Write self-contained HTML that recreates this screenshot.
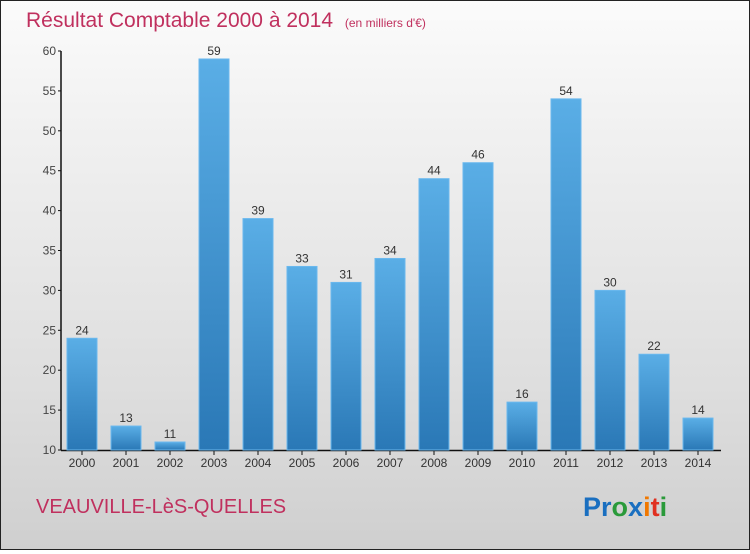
<!DOCTYPE html>
<html><head><meta charset="utf-8"><style>
body{margin:0;width:750px;height:550px;overflow:hidden}
#wrap{position:relative;width:748px;height:548px;border:1px solid #222;background:linear-gradient(#fbfbfb,#f2f2f2 20%,#dedede 70%,#cfcfcf);font-family:"Liberation Sans",sans-serif}
</style></head><body>
<div id="wrap">
<svg id="chart" width="748" height="548">
<defs><linearGradient id="bg" x1="0" y1="0" x2="0" y2="1"><stop offset="0" stop-color="#5aaee6"/><stop offset="1" stop-color="#2a78b6"/></linearGradient></defs>
<text x="25" y="26" font-size="21" fill="#c0305e">Résultat Comptable 2000 à 2014 <tspan font-size="12" dx="6">(en milliers d'€)</tspan></text>
<text x="35" y="512" font-size="20" fill="#c0305e">VEAUVILLE-LèS-QUELLES</text>
<text x="582" y="515" font-size="27" font-weight="bold"><tspan fill="#1a6fc0">Pr</tspan><tspan fill="#2a9a3a">o</tspan><tspan fill="#1a6fc0">x</tspan><tspan fill="#f07800">i</tspan><tspan fill="#e03020">t</tspan><tspan fill="#2a9a3a">i</tspan></text>
<g id="g"></g>
</svg></div>
<script>
const years=["2000","2001","2002","2003","2004","2005","2006","2007","2008","2009","2010","2011","2012","2013","2014"];
const values=[24,13,11,59,39,33,31,34,44,46,16,54,30,22,14];
const ticks=[10,15,20,25,30,35,40,45,50,55,60];
const NS="http://www.w3.org/2000/svg",g=document.getElementById('g');
const y=v=>449-(v-10)*7.98, x=i=>81+i*44;
function mk(t,a,txt){const e=document.createElementNS(NS,t);for(const k in a)e.setAttribute(k,a[k]);if(txt!=null)e.textContent=txt;g.appendChild(e);return e;}
let ax=mk('line',{x1:60,y1:50,x2:60,y2:449.5,stroke:'#111','stroke-width':1.5});


let xa=mk('line',{x1:60,y1:449.5,x2:720,y2:449.5,stroke:'#111','stroke-width':1.5});


ticks.forEach(t=>{
 let l=mk('line',{x1:57,x2:60,y1:y(t),y2:y(t),stroke:'#111'});
 
 
 let tx=mk('text',{x:55,y:y(t)+4,'text-anchor':'end','font-size':12,fill:'#444'},t);
 
 
});
years.forEach((yr,i)=>{
 let r=mk('rect',{x:x(i)-15,y:y(values[i]),width:30,height:449-y(values[i]),fill:'url(#bg)',stroke:'#6ab8ee','stroke-width':1});
 
 
 let v=mk('text',{x:x(i),y:y(values[i])-4,'text-anchor':'middle','font-size':12,fill:'#333'},values[i]);
 
 
 let tk=mk('line',{x1:x(i),x2:x(i),y1:450,y2:454,stroke:'#111'});
 
 
 let xl=mk('text',{x:x(i),y:466,'text-anchor':'middle','font-size':12,fill:'#333'},yr);
 
 
});
</script>
</body></html>
